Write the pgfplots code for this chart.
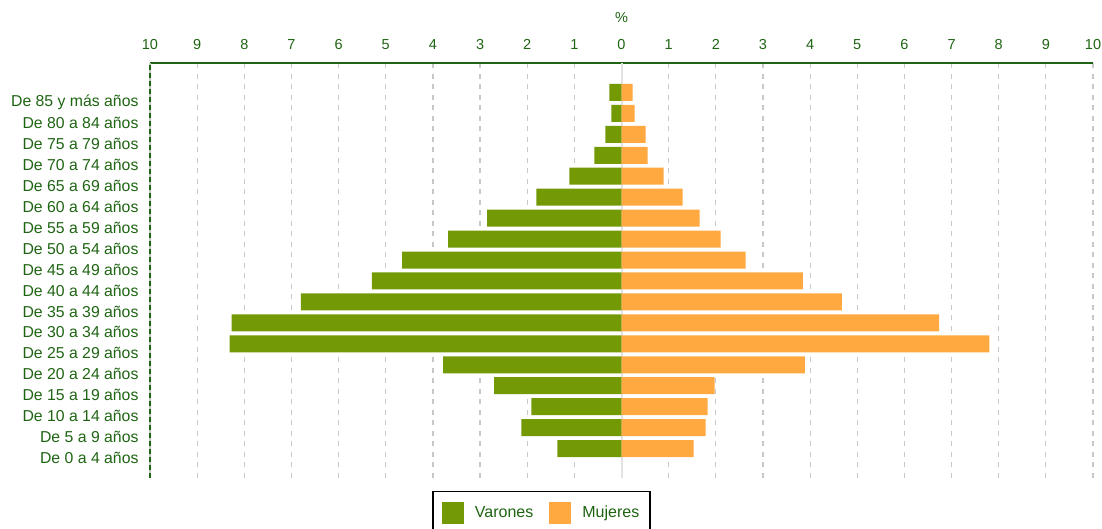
\documentclass[border=0pt]{standalone}
\usepackage{fontspec}
\setmainfont{Liberation Sans}
\usepackage{pgfplots}
\pgfplotsset{compat=1.18}
\definecolor{dgreen}{RGB}{30,100,18}
\definecolor{vgreen}{RGB}{115,153,5}
\definecolor{morange}{RGB}{255,169,64}
\definecolor{gridgray}{RGB}{200,200,200}
\begin{document}
\begin{tikzpicture}
\begin{axis}[
  scale only axis, width=943pt, height=415pt,
  at={(0,0)}, anchor=south west,
  xmin=-10, xmax=10, ymin=-1.405, ymax=18.405,
  xbar, bar width=17pt, bar shift=0pt,
  axis x line*=top, axis y line*=left,
  x axis line style={-, draw=dgreen, line width=2.2pt},
  y axis line style={-, draw=gray!45, line width=2.6pt, postaction={draw=dgreen, line width=2pt, dash pattern=on 5pt off 3pt}},
  xtick={-10,-9,...,10},
  xticklabels={10,9,8,7,6,5,4,3,2,1,0,1,2,3,4,5,6,7,8,9,10},
  major tick length=0pt,
  xticklabel style={font=\fontsize{14.5}{16}\selectfont, text=dgreen, yshift=10pt},
  xlabel={\%}, xlabel style={at={(axis description cs:0.5,1)}, anchor=center, yshift=45pt, font=\fontsize{14.5}{16}\selectfont, text=dgreen},
  ytick={0,...,17},
  yticklabels={De 0 a 4 años,De 5 a 9 años,De 10 a 14 años,De 15 a 19 años,De 20 a 24 años,De 25 a 29 años,De 30 a 34 años,De 35 a 39 años,De 40 a 44 años,De 45 a 49 años,De 50 a 54 años,De 55 a 59 años,De 60 a 64 años,De 65 a 69 años,De 70 a 74 años,De 75 a 79 años,De 80 a 84 años,De 85 y más años},
  yticklabel style={font=\fontsize{15.8}{18}\selectfont, text=dgreen, yshift=-9.5pt, xshift=-8pt},
  xmajorgrids, grid style={gridgray, line width=1.2pt, dash pattern=on 5pt off 5.5pt},
  extra x ticks={0}, extra x tick labels={},
  extra x tick style={grid style={solid, gray!22, line width=2pt}},
  legend columns=2,
  legend style={at={(0.2991,-0.0306)}, anchor=north west, draw=black, line width=1.8pt,
    font=\fontsize{16}{18}\selectfont, text=dgreen, inner xsep=9pt, inner ysep=10pt,
    /tikz/every odd column/.append style={column sep=9pt},
    /tikz/every even column/.append style={column sep=14pt}},
  legend image code/.code={\fill[#1,draw=none] (0pt,-11pt) rectangle (22pt,11pt);},
]
\addplot[fill=vgreen, draw=none] coordinates {
(-1.36,0) (-2.125,1) (-1.913,2) (-2.70,3) (-3.783,4) (-8.31,5) (-8.268,6) (-6.80,7) (-5.292,8) (-4.655,9) (-3.677,10) (-2.848,11) (-1.807,12) (-1.105,13) (-0.574,14) (-0.34,15) (-0.213,16) (-0.255,17)};
\addlegendentry{Varones}
\addplot[fill=morange, draw=none] coordinates {
(1.53,0) (1.785,1) (1.828,2) (1.977,3) (3.89,4) (7.80,5) (6.737,6) (4.676,7) (3.847,8) (2.635,9) (2.104,10) (1.658,11) (1.296,12) (0.893,13) (0.553,14) (0.51,15) (0.276,16) (0.234,17)};
\addlegendentry{Mujeres}
\end{axis}
\pgfresetboundingbox
\path[use as bounding box] (-150pt,-51pt) rectangle (952pt,478pt);
\end{tikzpicture}
\end{document}
